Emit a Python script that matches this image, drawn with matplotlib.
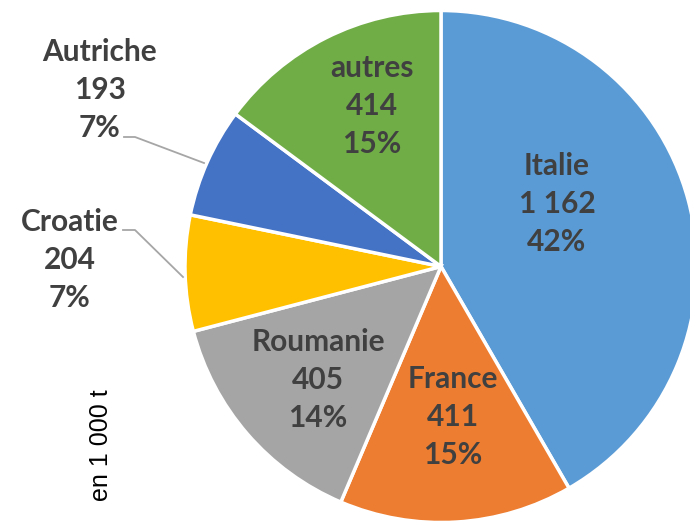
import matplotlib.pyplot as plt

plt.rcParams['font.family'] = ['Lato', 'DejaVu Sans']

pays = ["Italie", "France", "Roumanie", "Croatie", "Autriche", "autres"]
valeurs = [1162, 411, 405, 204, 193, 414]
pourcents = [42, 15, 14, 7, 7, 15]
couleurs = ["#5B9BD5", "#ED7D31", "#A5A5A5", "#FFC000", "#4472C4", "#70AD47"]

# positions des étiquettes (pixels, origine en haut à gauche)
pos_etiq = [(557, 204), (453, 417), (318, 380), (70, 260), (100, 90), (372, 106)]

W, H = 690, 523
fig = plt.figure(figsize=(W / 100, H / 100), dpi=100)
ax = fig.add_axes([0, 0, 1, 1])

cx, cy, r = 441, 266.5, 256
ax.pie(valeurs, colors=couleurs, startangle=90, counterclock=False,
       center=(cx, -cy), radius=r,
       wedgeprops=dict(edgecolor='white', linewidth=2.5))
ax.set_xlim(0, W)
ax.set_ylim(-H, 0)
ax.set_aspect('equal')
ax.axis('off')

for nom, v, pc, (x, y) in zip(pays, valeurs, pourcents, pos_etiq):
    txt = "{}\n{}\n{}%".format(nom, "{:,}".format(v).replace(",", " "), pc)
    ax.text(x, -y, txt, ha='center', va='center', fontsize=21.5, fontweight='bold',
            color='#404040', linespacing=1.42)

# lignes de rappel
ax.plot([124, 135, 204], [-137, -137, -163], color='#A6A6A6', lw=1.3)
ax.plot([123, 135, 183], [-230, -230, -277], color='#A6A6A6', lw=1.3)

ax.text(101, -445, "en 1 000 t", rotation=90, ha='center', va='center',
        fontsize=18, family='Liberation Sans', color='black')

fig.savefig("out.png", dpi=100)
